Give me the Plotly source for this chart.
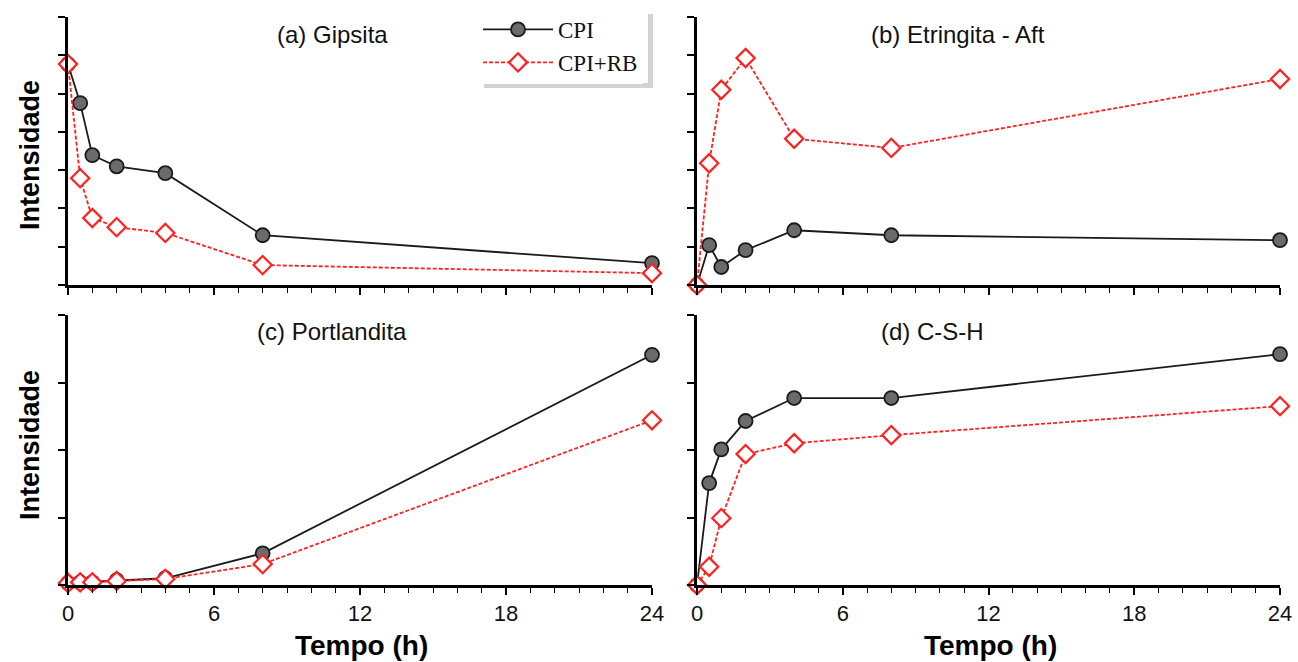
import plotly.graph_objects as go

tempo = [0, 0.5, 1, 2, 4, 8, 24]

gipsita_cpi = [5.77, 4.75, 3.39, 3.10, 2.92, 1.30, 0.57]
gipsita_rb = [5.77, 2.79, 1.75, 1.51, 1.36, 0.52, 0.31]

etringita_cpi = [0.0, 1.04, 0.47, 0.91, 1.43, 1.30, 1.17]
etringita_rb = [0.0, 3.18, 5.10, 5.93, 3.82, 3.58, 5.38]

portlandita_cpi = [0.03, 0.04, 0.04, 0.07, 0.10, 0.47, 3.41]
portlandita_rb = [0.03, 0.04, 0.04, 0.06, 0.09, 0.31, 2.44]

csh_cpi = [0.0, 1.51, 2.01, 2.43, 2.77, 2.77, 3.42]
csh_rb = [0.0, 0.27, 0.99, 1.94, 2.10, 2.22, 2.65]

panel_titles = ["(a) Gipsita", "(b) Etringita - Aft", "(c) Portlandita", "(d) C-S-H"]
series_names = ["CPI", "CPI+RB"]
x_ticks = [0, 6, 12, 18, 24]

W, H = 1298, 662
L, R, T, B = 68, 18, 17, 77
pw, ph = W - L - R, H - T - B

def px_x(p):
    return (p - L) / pw

def px_y(p):
    return (H - B - p) / ph

fig = go.Figure()

panels = [
    (gipsita_cpi, gipsita_rb, "x", "y", 7),
    (etringita_cpi, etringita_rb, "x2", "y2", 7),
    (portlandita_cpi, portlandita_rb, "x3", "y3", 4),
    (csh_cpi, csh_rb, "x4", "y4", 4),
]

for i, (cpi, rb, xa, ya, ymax) in enumerate(panels):
    fig.add_trace(go.Scatter(
        x=tempo, y=cpi, xaxis=xa, yaxis=ya, mode="lines+markers",
        name=series_names[0], showlegend=(i == 0), cliponaxis=False,
        line=dict(color="#1a1a1a", width=1.8),
        marker=dict(symbol="circle", size=14, color="#6b6b6b",
                    line=dict(color="#1a1a1a", width=1.8)),
    ))
    fig.add_trace(go.Scatter(
        x=tempo, y=rb, xaxis=xa, yaxis=ya, mode="lines+markers",
        name=series_names[1], showlegend=(i == 0), cliponaxis=False,
        line=dict(color="#ff2020", width=1.8, dash="4px,2px"),
        marker=dict(symbol="diamond", size=14, color="white",
                    line=dict(color="#ff2020", width=2.2)),
    ))

xdom_left = [0, px_x(652)]
xdom_right = [px_x(697), 1]
ydom_top = [px_y(285), 1]
ydom_bot = [0, px_y(315)]

tick_font = dict(family="Liberation Sans, Arial, sans-serif", size=22, color="#111")

def xaxis_cfg(dom, anchor, labels):
    return dict(
        domain=dom, anchor=anchor, range=[0, 24], showgrid=False, zeroline=False,
        showline=True, linecolor="black", linewidth=2.5,
        ticks="outside", ticklen=7, tickwidth=1.8, tickcolor="black",
        tickvals=x_ticks, ticktext=[str(v) for v in x_ticks],
        showticklabels=labels, tickfont=tick_font,
        minor=dict(dtick=1, ticks="outside", ticklen=5, tickwidth=1.3, tickcolor="black"),
    )

def yaxis_cfg(dom, anchor, ymax):
    return dict(
        domain=dom, anchor=anchor, range=[0, ymax], showgrid=False, zeroline=False,
        showline=True, linecolor="black", linewidth=2.5,
        ticks="outside", ticklen=7, tickwidth=1.8, tickcolor="black",
        dtick=1, tick0=0, showticklabels=False,
    )

fig.update_layout(
    width=W, height=H,
    margin=dict(l=L, r=R, t=T, b=B, autoexpand=False),
    paper_bgcolor="white", plot_bgcolor="white",
    xaxis=xaxis_cfg(xdom_left, "y", False),
    yaxis=yaxis_cfg(ydom_top, "x", 7),
    xaxis2=xaxis_cfg(xdom_right, "y2", False),
    yaxis2=yaxis_cfg(ydom_top, "x2", 7),
    xaxis3=xaxis_cfg(xdom_left, "y3", True),
    yaxis3=yaxis_cfg(ydom_bot, "x3", 4),
    xaxis4=xaxis_cfg(xdom_right, "y4", True),
    yaxis4=yaxis_cfg(ydom_bot, "x4", 4),
    showlegend=True,
    legend=dict(
        x=px_x(478), y=px_y(8), xanchor="left", yanchor="top",
        bgcolor="white", borderwidth=0,
        font=dict(family="Liberation Serif, Times New Roman, serif", size=23, color="#111"),
        tracegroupgap=0, itemwidth=70,
    ),
)

# soft drop shadow along the right and bottom edges of the legend box
shadow = "#d2d2d2"
fig.add_shape(type="rect", xref="paper", yref="paper",
              x0=px_x(648), x1=px_x(653), y0=px_y(88), y1=px_y(14),
              fillcolor=shadow, line=dict(width=0), layer="above")
fig.add_shape(type="rect", xref="paper", yref="paper",
              x0=px_x(484), x1=px_x(653), y0=px_y(88), y1=px_y(83),
              fillcolor=shadow, line=dict(width=0), layer="above")

title_font = dict(family="Liberation Sans, Arial, sans-serif", size=24, color="#111")
title_pos = [(332, 35), (958, 35), (332, 331), (932, 331)]
for txt, (tx, ty) in zip(panel_titles, title_pos):
    fig.add_annotation(text=txt, xref="paper", yref="paper", x=px_x(tx), y=px_y(ty),
                       showarrow=False, font=title_font, xanchor="center", yanchor="middle")

ylab_font = dict(family="Liberation Sans, Arial, sans-serif", size=27, color="black")
for cy in (155, 445):
    fig.add_annotation(text="<b>Intensidade</b>", xref="paper", yref="paper",
                       x=px_x(30), y=px_y(cy), textangle=-90, showarrow=False,
                       font=ylab_font, xanchor="center", yanchor="middle")

xlab_font = dict(family="Liberation Sans, Arial, sans-serif", size=28, color="black")
for cx in (361, 990):
    fig.add_annotation(text="<b>Tempo (h)</b>", xref="paper", yref="paper",
                       x=px_x(cx), y=px_y(645), showarrow=False,
                       font=xlab_font, xanchor="center", yanchor="middle")

fig.write_html("out.html")
